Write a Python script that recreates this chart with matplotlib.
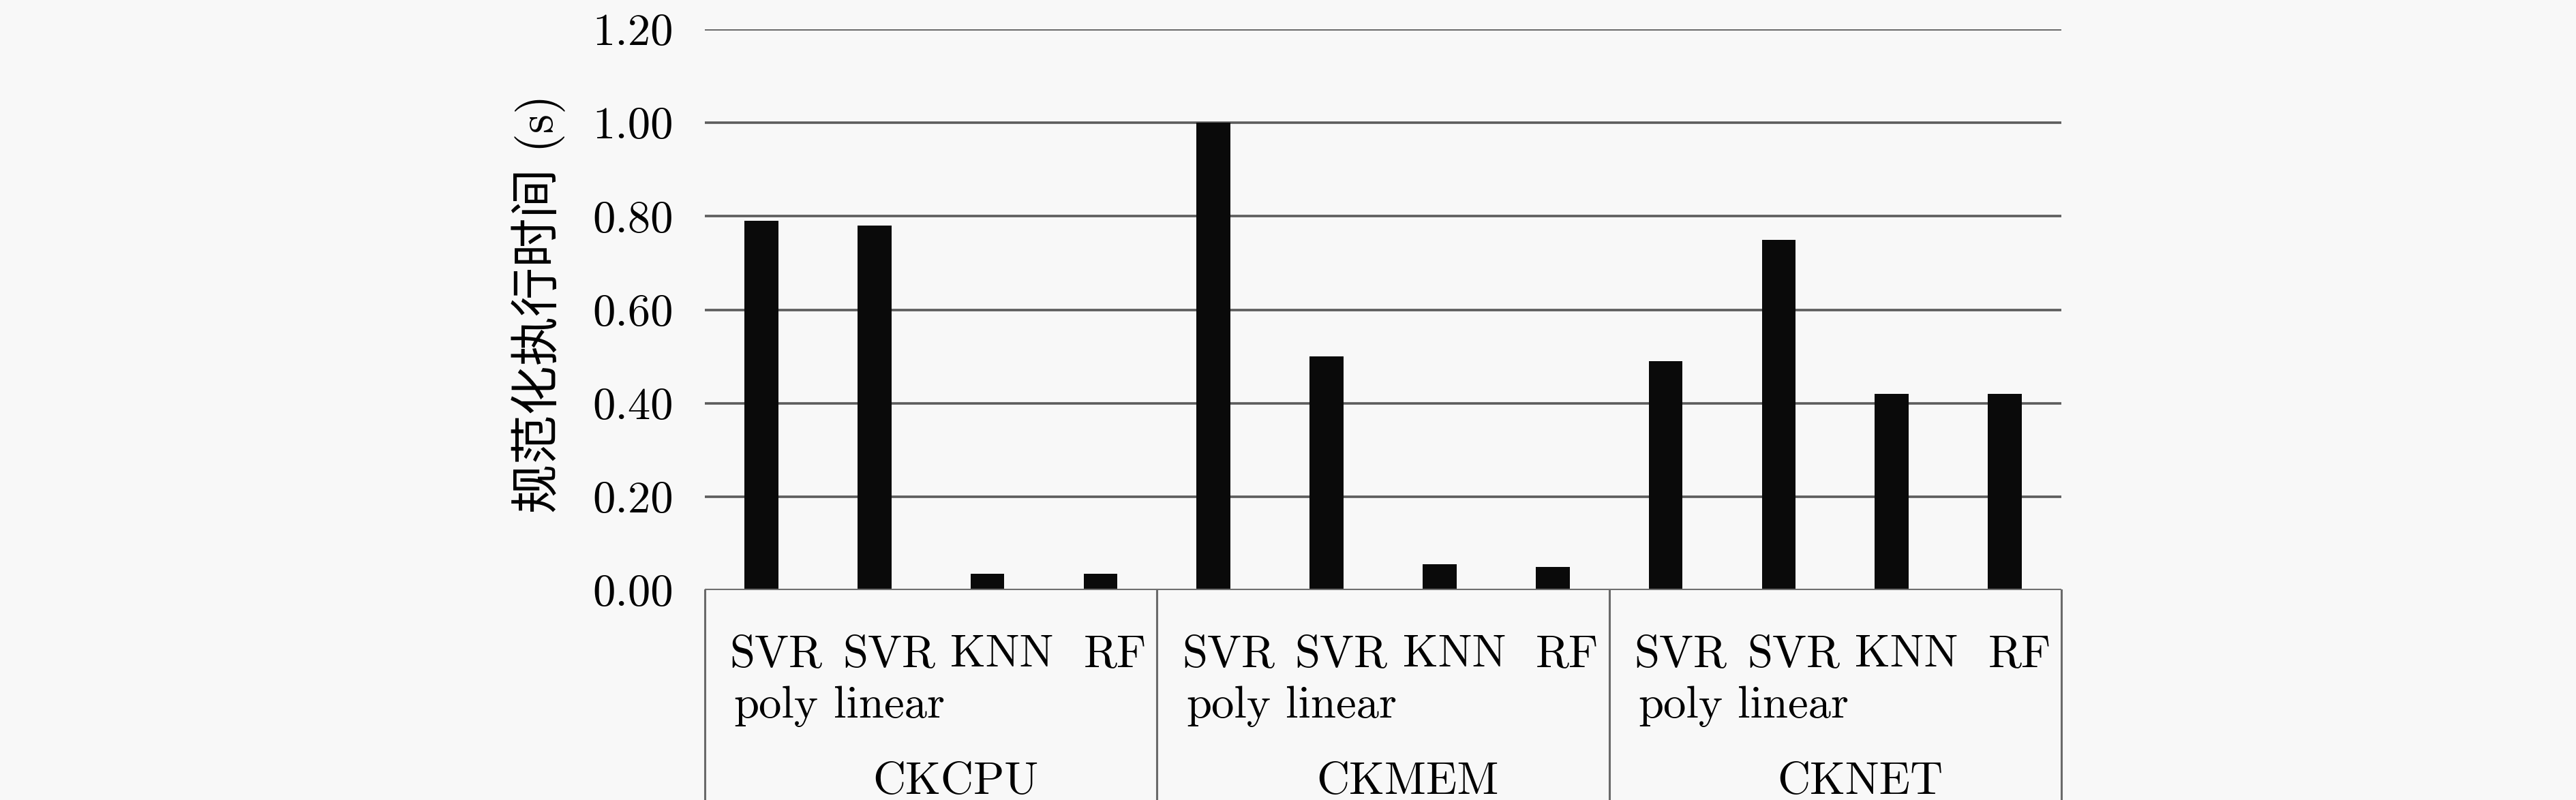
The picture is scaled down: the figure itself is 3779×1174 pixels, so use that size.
import matplotlib
matplotlib.use("Agg")
import matplotlib.pyplot as plt
from matplotlib.lines import Line2D

groups = ["CKCPU", "CKMEM", "CKNET"]
models = ["SVR\npoly", "SVR\nlinear", "KNN", "RF"]
values = {
    "CKCPU": [0.79, 0.78, 0.035, 0.035],
    "CKMEM": [1.00, 0.50, 0.056, 0.049],
    "CKNET": [0.49, 0.75, 0.42, 0.42],
}
yticks = [0.0, 0.2, 0.4, 0.6, 0.8, 1.0, 1.2]
ylabel = "规范化执行时间 (s)"

plt.rcParams["axes.formatter.use_mathtext"] = True
SERIF = ["cmr10", "Noto Sans CJK SC", "DejaVu Serif"]
FS = 48
BG = "#f8f8f8"
GRID = "#5c5c5c"

fig = plt.figure(figsize=(37.8, 11.74), dpi=100, facecolor=BG)
ax = fig.add_axes([1034/3780, 308/1174, 1990/3780, 823/1174])
ax.set_facecolor(BG)

n = len(models)
xs, hs = [], []
for gi, g in enumerate(groups):
    for mi in range(n):
        xs.append(gi * n + mi)
        hs.append(values[g][mi])

ax.bar(xs, hs, width=0.30, color="#0a0a0a", zorder=2)
ax.set_xlim(-0.5, len(groups) * n - 0.5)
ax.set_ylim(0, 1.2)
ax.set_yticks(yticks)
ax.set_yticklabels([f"{v:.2f}" for v in yticks], fontfamily=SERIF, fontsize=FS)
ax.tick_params(axis="y", length=0, pad=33)
ax.set_xticks([])
for t in yticks[1:]:
    ax.axhline(t, color=GRID, lw=2.6, zorder=1)
ax.axhline(0, color="#707070", lw=3.0, zorder=3)
for s in ax.spines.values():
    s.set_visible(False)

trans = ax.get_xaxis_transform()
bottom = -308 / 823
for gi in range(len(groups) + 1):
    xpos = gi * n - 0.5
    ax.add_line(Line2D([xpos, xpos], [0, bottom], transform=trans, color="#6a6a6a",
                       lw=2.2, clip_on=False))

line_y = [-112 / 823, -187 / 823]
for gi, g in enumerate(groups):
    for mi, m in enumerate(models):
        for li, part in enumerate(m.split("\n")):
            ax.text(gi * n + mi + 0.13, line_y[li], part, transform=trans, ha="center",
                    va="baseline", fontfamily=SERIF, fontsize=FS)
    ax.text(gi * n + 1.5 + 0.22, -299 / 823, g, transform=trans, ha="center", va="baseline",
            fontfamily=SERIF, fontsize=FS)

fig.text(790 / 3780, 1 - 446 / 1174, ylabel, rotation=90, ha="center", va="center",
         fontfamily=SERIF, fontsize=52)

fig.savefig("out.png", dpi=100, facecolor=BG)
